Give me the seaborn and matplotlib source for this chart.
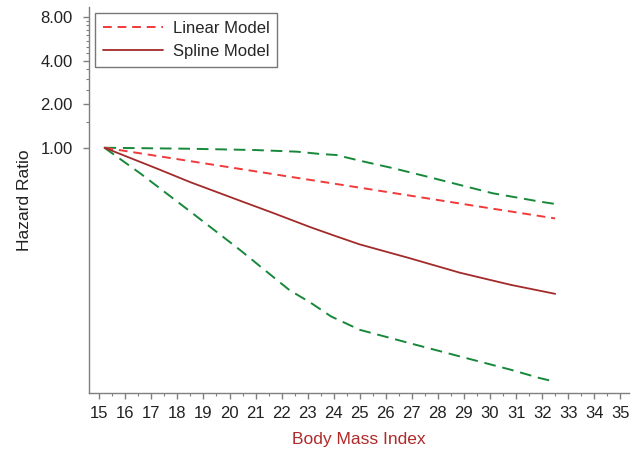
import numpy as np
import pandas as pd
import matplotlib
matplotlib.use("Agg")
import matplotlib.pyplot as plt
import seaborn as sns
from matplotlib.ticker import FixedLocator, NullFormatter

# values (hazard ratio, log scale)
linear_bmi = [15.2, 20.0, 25.0, 30.0, 32.5]
linear_hr = [1.0, 0.733, 0.53, 0.382, 0.325]

spline_bmi = [15.2, 17.2, 18.5, 20.4, 21.7, 23.1, 24.0, 25.0, 26.9, 28.85, 30.8, 32.5]
spline_hr = [1.0, 0.72, 0.578, 0.431, 0.353, 0.283, 0.248, 0.215, 0.173, 0.137, 0.113, 0.098]

upper_bmi = [15.2, 18.5, 21.0, 22.6, 23.5, 24.1, 25.0, 26.3, 27.6, 28.85, 30.1, 31.9, 32.5]
upper_hr = [1.0, 0.984, 0.964, 0.939, 0.905, 0.891, 0.814, 0.721, 0.631, 0.553, 0.485, 0.425, 0.409]

lower_bmi = [15.2, 16.6, 18.5, 20.4, 22.3, 23.1, 23.9, 25.0, 26.9, 28.85, 30.8, 31.9, 32.5]
lower_hr = [1.0, 0.66, 0.362, 0.197, 0.104, 0.0854, 0.0684, 0.0553, 0.0448, 0.0362, 0.0293, 0.0257, 0.0242]

y_ticks = [1, 2, 4, 8]
y_minor = [1.5, 2.5, 3, 3.5, 4.5, 5, 5.5, 6, 6.5, 7, 7.5]
x_ticks = list(range(15, 36))

sns.set_style("ticks")
plt.rcParams["font.family"] = ["Liberation Sans", "DejaVu Sans"]

fig = plt.figure(figsize=(6.39, 4.54), dpi=100)
ax = fig.add_axes([0.139, 0.134, 0.846, 0.851])

green = "#17883a"
sns.lineplot(x=upper_bmi, y=upper_hr, ax=ax, color=green, lw=1.4,
             linestyle=(0, (6, 3.5)), label="_nolegend_")
sns.lineplot(x=lower_bmi, y=lower_hr, ax=ax, color=green, lw=1.4,
             linestyle=(0, (6, 3.5)), label="_nolegend_")
sns.lineplot(x=linear_bmi, y=linear_hr, ax=ax, color="#f03a3a", lw=1.4,
             linestyle=(0, (4.5, 3)), label="Linear Model")
sns.lineplot(x=spline_bmi, y=spline_hr, ax=ax, color="#a32a2a", lw=1.3,
             label="Spline Model")

ax.set_yscale("log")
ax.set_ylim(0.0202, 9.4)
ax.set_xlim(14.6, 35.35)
ax.yaxis.set_major_locator(FixedLocator(y_ticks))
ax.set_yticklabels([f"{v:.2f}" for v in y_ticks])
ax.yaxis.set_minor_locator(FixedLocator(y_minor))
ax.yaxis.set_minor_formatter(NullFormatter())
ax.set_xticks(x_ticks)
ax.set_xticks(np.arange(15.5, 35.5, 1), minor=True)

for side in ["top", "right"]:
    ax.spines[side].set_visible(False)
for side in ["left", "bottom"]:
    ax.spines[side].set_color("#7f7f7f")
    ax.spines[side].set_linewidth(1.0)
ax.tick_params(which="major", length=4.5, width=1, color="#7f7f7f", labelsize=12,
               labelcolor="#222222")
ax.tick_params(axis="x", which="major", pad=4.5)
ax.tick_params(axis="y", which="major", pad=7)
ax.tick_params(which="minor", length=2.5, width=0.8, color="#7f7f7f")

ax.set_xlabel("Body Mass Index", color="#b02a2a", fontsize=12.5, labelpad=8)
ax.set_ylabel("Hazard Ratio", color="#222222", fontsize=12.5, labelpad=6)

leg = ax.legend(loc="upper left", bbox_to_anchor=(0.0, 1.0), fontsize=12,
                frameon=True, fancybox=False, handlelength=3.6, handletextpad=0.6,
                borderpad=0.45, labelspacing=0.5, borderaxespad=0.4)
leg.get_frame().set_edgecolor("#555555")
leg.get_frame().set_linewidth(1.0)

fig.savefig("out.png", dpi=100)
